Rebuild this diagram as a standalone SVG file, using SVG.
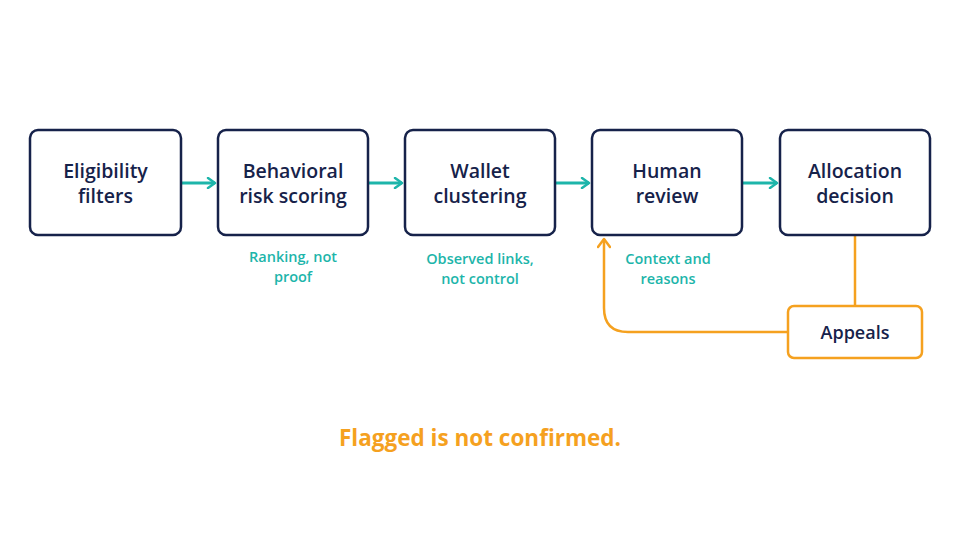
<svg xmlns="http://www.w3.org/2000/svg" width="960" height="540" viewBox="0 0 960 540">
<defs>
<style>
.node{fill:#fff;stroke:#16224a;stroke-width:2.5}
.nt{font-family:"Open Sans","Noto Sans",sans-serif;font-size:19.5px;font-weight:600;fill:#16224a;text-anchor:middle}
.cap{font-family:"Open Sans","Noto Sans",sans-serif;font-size:14.5px;font-weight:600;fill:#1db5aa;text-anchor:middle}
.teal{stroke:#1db5aa;stroke-width:3;fill:none}
.org{stroke:#f5a11f;stroke-width:2.5;fill:none}
</style>
<marker id="ah" viewBox="0 0 12 12" refX="10" refY="6" markerWidth="12" markerHeight="12" markerUnits="userSpaceOnUse" orient="auto">
<path d="M3,1 L10,6 L3,11" fill="none" stroke="#1db5aa" stroke-width="2.5" stroke-linecap="round" stroke-linejoin="round"/>
</marker>
<marker id="ao" viewBox="0 0 14 14" refX="12" refY="7" markerWidth="14" markerHeight="14" markerUnits="userSpaceOnUse" orient="auto">
<path d="M4,1 L12,7 L4,13" fill="none" stroke="#f5a11f" stroke-width="2.5" stroke-linecap="round" stroke-linejoin="round"/>
</marker>
</defs>
<rect width="960" height="540" fill="#fff"/>
<g id="connectors">
<line class="teal" x1="182" y1="183" x2="215" y2="183" marker-end="url(#ah)"/>
<line class="teal" x1="369" y1="183" x2="402" y2="183" marker-end="url(#ah)"/>
<line class="teal" x1="556" y1="183" x2="589" y2="183" marker-end="url(#ah)"/>
<line class="teal" x1="743" y1="183" x2="777" y2="183" marker-end="url(#ah)"/>
<line class="org" x1="855" y1="236" x2="855" y2="306"/>
<path class="org" d="M788,332 L628,332 Q604,332 604,308 L604,239" marker-end="url(#ao)"/>
</g>
<g id="n1"><rect class="node" x="30" y="130" width="151" height="105" rx="8"/><text class="nt" x="105.5" y="178">Eligibility</text><text class="nt" x="105.5" y="203">filters</text></g>
<g id="n2"><rect class="node" x="218" y="130" width="150" height="105" rx="8"/><text class="nt" x="293" y="178">Behavioral</text><text class="nt" x="293" y="203">risk scoring</text></g>
<g id="n3"><rect class="node" x="405" y="130" width="150" height="105" rx="8"/><text class="nt" x="480" y="178">Wallet</text><text class="nt" x="480" y="203">clustering</text></g>
<g id="n4"><rect class="node" x="592" y="130" width="150" height="105" rx="8"/><text class="nt" x="667" y="178">Human</text><text class="nt" x="667" y="203">review</text></g>
<g id="n5"><rect class="node" x="780" y="130" width="150" height="105" rx="8"/><text class="nt" x="855" y="178">Allocation</text><text class="nt" x="855" y="203">decision</text></g>
<g id="n6"><rect x="788" y="306" width="134" height="52" rx="6" fill="#fff" stroke="#f5a11f" stroke-width="2.5"/><text class="nt" x="855" y="339" style="font-size:18px">Appeals</text></g>
<g id="captions">
<text class="cap" x="293" y="262">Ranking, not</text><text class="cap" x="293" y="281.5">proof</text>
<text class="cap" x="480" y="264">Observed links,</text><text class="cap" x="480" y="283.5">not control</text>
<text class="cap" x="668" y="264">Context and</text><text class="cap" x="668" y="283.5">reasons</text>
</g>
<text x="480" y="446" text-anchor="middle" style="font-family:'Open Sans','Noto Sans',sans-serif;font-size:22.5px;font-weight:700;fill:#f5a11f">Flagged is not confirmed.</text>
</svg>
